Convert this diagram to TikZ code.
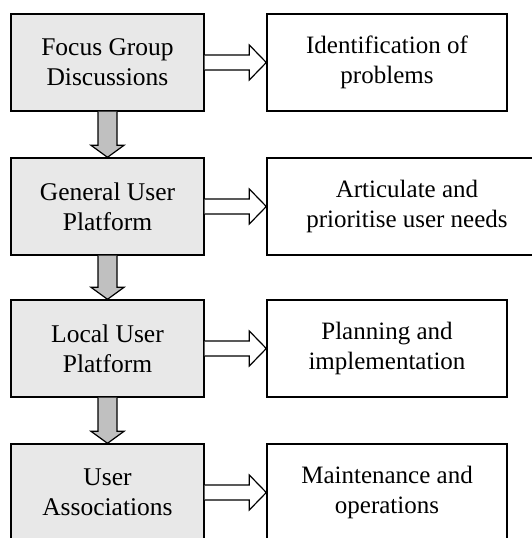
\documentclass[tikz,border=0pt]{standalone}
\usepackage{fontspec}
\setmainfont{Liberation Serif}
\usetikzlibrary{calc}
\definecolor{boxgray}{RGB}{232,232,232}
\definecolor{arrowgray}{RGB}{192,192,192}
\tikzset{
  stage/.style={draw, line width=1.4pt, fill=boxgray, minimum width=193pt, minimum height=97pt, align=center, font=\fontsize{25.5}{30}\selectfont},
  outcome/.style={draw, line width=1.4pt, fill=white, minimum width=240pt, minimum height=97pt, align=center, font=\fontsize{25}{30}\selectfont},
  hollow/.style={draw, line width=1.2pt, fill=white, line join=miter},
  solidgray/.style={draw, line width=1.2pt, fill=arrowgray, line join=miter}
}
\begin{document}
\begin{tikzpicture}[x=1pt,y=-1pt]
\useasboundingbox (0,0) rectangle (532,538);
\clip (0,0) rectangle (532,538);

\node[stage] (focus) at (107.5,62.5) {Focus Group\\Discussions};
\node[stage] (general) at (107.5,206.5) {General User\\Platform};
\node[stage] (local) at (107.5,348.5) {Local User\\Platform};
\node[stage] (assoc) at (107.5,492.5) {User\\Associations};

\node[outcome] (problems) at (387,62.5) {Identification of\\problems};
\node[outcome, minimum width=280pt] (needs) at (407,206.5) {Articulate and\\prioritise user needs};
\node[outcome] (planning) at (387,348.5) {Planning and\\implementation};
\node[outcome] (maint) at (387,492.5) {Maintenance and\\operations};

% hollow arrows to the right
\foreach \a/\b in {focus/problems, general/needs, local/planning, assoc/maint}
  \draw[hollow] ($(\a.east)+(0,-7.5)$) -- ($(\b.west |- \a.east)+(-17,-7.5)$)
    -- ($(\b.west |- \a.east)+(-17,-17.5)$) -- (\b.west |- \a.east)
    -- ($(\b.west |- \a.east)+(-17,17.5)$) -- ($(\b.west |- \a.east)+(-17,7.5)$)
    -- ($(\a.east)+(0,7.5)$);

% gray arrows downwards
\foreach \a/\b in {focus/general, general/local, local/assoc}
  \draw[solidgray] ($(\a.south)+(-9.5,0)$) -- ($(\b.north)+(-9.5,-12)$)
    -- ($(\b.north)+(-16.5,-12)$) -- (\b.north)
    -- ($(\b.north)+(16.5,-12)$) -- ($(\b.north)+(9.5,-12)$)
    -- ($(\a.south)+(9.5,0)$);
\end{tikzpicture}
\end{document}
